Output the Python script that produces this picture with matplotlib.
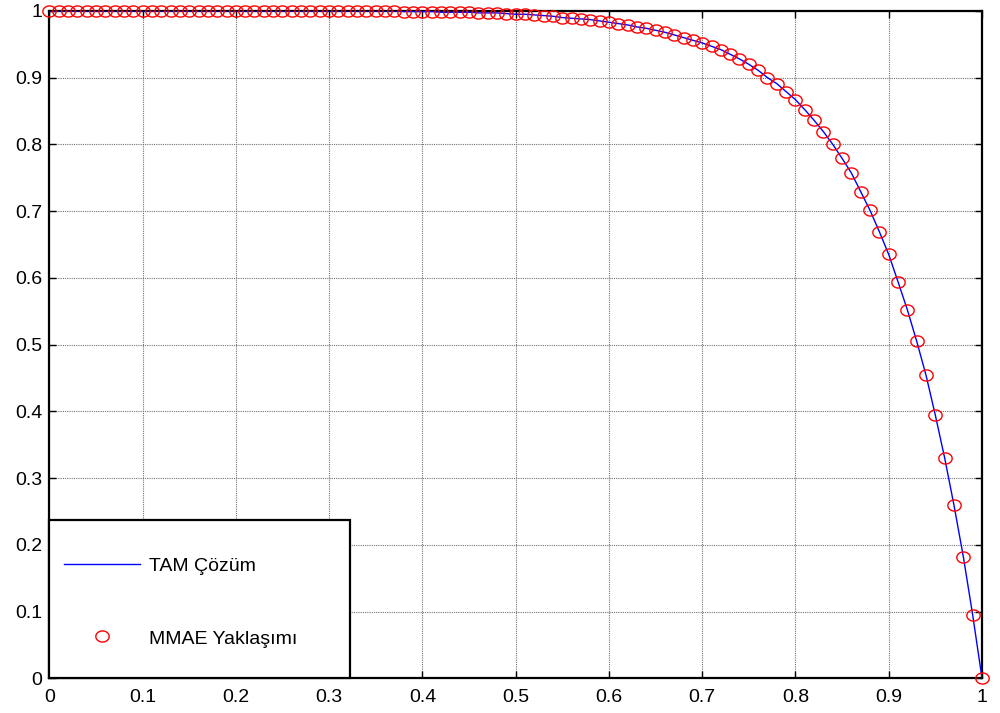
import numpy as np
import matplotlib
matplotlib.use("Agg")
import matplotlib.pyplot as plt
from matplotlib.patches import Rectangle
from matplotlib.path import Path

plt.rcParams['font.family'] = ['Liberation Sans', 'DejaVu Sans']

# x grid (step 0.01)
x_vals = np.linspace(0.0, 1.0, 101)

# values
y_vals = [
    1.000, 1.000, 1.000, 1.000, 1.000, 1.000, 1.000, 1.000, 1.000, 1.000,  # 0.00-0.09
    1.000, 1.000, 1.000, 1.000, 1.000, 1.000, 1.000, 1.000, 1.000, 1.000,  # 0.10-0.19
    1.000, 1.000, 1.000, 1.000, 1.000, 1.000, 1.000, 1.000, 1.000, 1.000,  # 0.20-0.29
    1.000, 1.000, 1.000, 1.000, 1.000, 1.000, 1.000, 1.000, 0.999, 0.999,  # 0.30-0.39
    0.999, 0.999, 0.998, 0.998, 0.998, 0.998, 0.997, 0.997, 0.997, 0.996,  # 0.40-0.49
    0.995, 0.995, 0.994, 0.993, 0.992, 0.990, 0.989, 0.988, 0.987, 0.985,  # 0.50-0.59
    0.983, 0.981, 0.979, 0.976, 0.974, 0.971, 0.968, 0.964, 0.960, 0.956,  # 0.60-0.69
    0.952, 0.947, 0.942, 0.935, 0.928, 0.920, 0.911, 0.900, 0.891, 0.879,  # 0.70-0.79
    0.867, 0.852, 0.836, 0.819, 0.800, 0.779, 0.757, 0.729, 0.701, 0.669,  # 0.80-0.89
    0.635, 0.594, 0.552, 0.505, 0.454, 0.394, 0.330, 0.259, 0.182, 0.095,  # 0.90-0.99
    0.000,                                                                   # 1.00
]
exact_vals = y_vals
mmae_vals = y_vals

x_ticks = [0, 0.1, 0.2, 0.3, 0.4, 0.5, 0.6, 0.7, 0.8, 0.9, 1]
x_tick_labels = ['0', '0.1', '0.2', '0.3', '0.4', '0.5', '0.6', '0.7', '0.8', '0.9', '1']
y_ticks = [0, 0.1, 0.2, 0.3, 0.4, 0.5, 0.6, 0.7, 0.8, 0.9, 1]
y_tick_labels = ['0', '0.1', '0.2', '0.3', '0.4', '0.5', '0.6', '0.7', '0.8', '0.9', '1']
labels = ['TAM Çözüm', 'MMAE Yaklaşımı']

# slightly wide ellipse marker (reference is horizontally stretched)
_t = np.linspace(0, 2 * np.pi, 65)
ellipse = Path(np.column_stack([1.2 * np.cos(_t), np.sin(_t)]), closed=True)

fig = plt.figure(figsize=(10, 7.13), dpi=100)
ax = fig.add_axes([0.0493, 0.0487, 0.9327, 0.936])

ax.plot(x_vals, exact_vals, color='blue', lw=1.0, label=labels[0], zorder=3)
ax.plot(x_vals, mmae_vals, linestyle='none', marker=ellipse, ms=9.6,
        mfc='none', mec='red', mew=1.0,
        label=labels[1], clip_on=False, zorder=4)

ax.set_xlim(0, 1)
ax.set_ylim(0, 1)
ax.set_xticks(x_ticks)
ax.set_xticklabels(x_tick_labels)
ax.set_yticks(y_ticks)
ax.set_yticklabels(y_tick_labels)
ax.tick_params(direction='in', length=5, width=1, top=True, right=True,
               labelsize=14, colors='black')
ax.tick_params(axis='x', pad=8)
ax.tick_params(axis='y', pad=5)
ax.grid(True, color='0.45', linestyle=(0, (1, 1)), linewidth=0.8)
for s in ax.spines.values():
    s.set_linewidth(1.6)
    s.set_color('black')

# legend box
rect = Rectangle((0, 0), 0.322, 0.237, transform=ax.transAxes,
                 facecolor='white', edgecolor='black', lw=1.6, zorder=5,
                 clip_on=False)
ax.add_patch(rect)
leg = ax.legend(loc='center left', bbox_to_anchor=(0, 0.114), borderaxespad=0,
                frameon=False, fontsize=14, borderpad=0.77, handleheight=0.9,
                labelspacing=2.75, handlelength=3.87, handletextpad=0.5)
leg.set_zorder(6)

fig.savefig('out.png', dpi=100)
